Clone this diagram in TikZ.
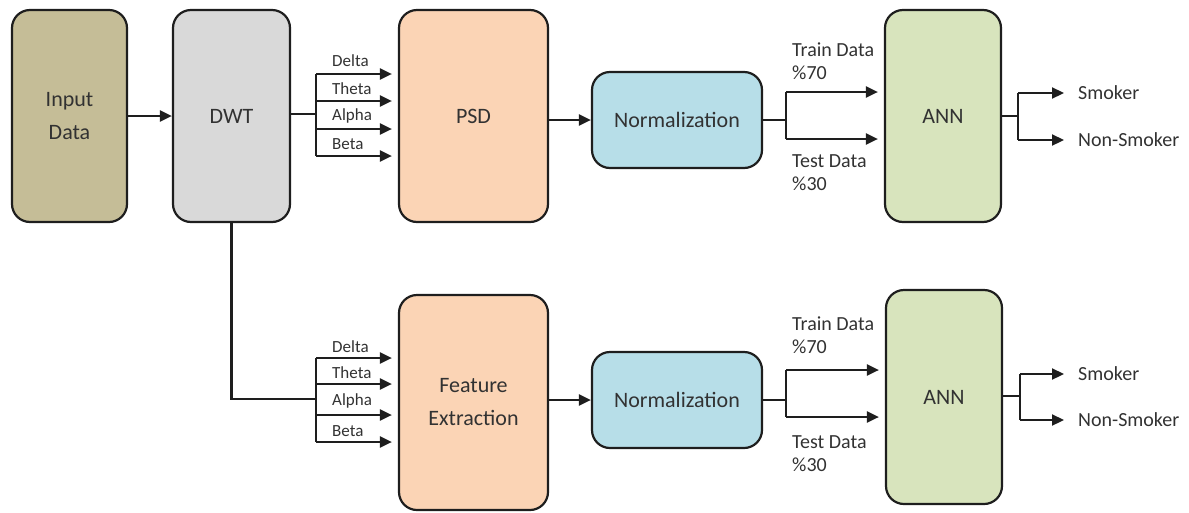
\documentclass[tikz,border=0pt]{standalone}
\usepackage{fontspec}
\setmainfont{Carlito}
\usepackage{xcolor}
\usetikzlibrary{arrows.meta}
\usetikzlibrary{positioning}

\definecolor{inputc}{RGB}{197,189,151}
\definecolor{dwtc}{RGB}{217,217,217}
\definecolor{psdc}{RGB}{251,212,181}
\definecolor{normc}{RGB}{183,222,232}
\definecolor{annc}{RGB}{216,228,189}
\definecolor{inkc}{RGB}{30,30,30}
\definecolor{txtc}{RGB}{50,50,50}

\tikzset{
  block/.style = {draw=inkc, line width=2.2pt, rounded corners=18pt, inner sep=0pt,
                  align=center, text=txtc, font=\fontsize{22}{33}\selectfont},
  flow/.style = {line width=2.2pt, draw=inkc},
  arr/.style = {flow, -{Triangle[length=12pt,width=11pt]}},
  band/.style = {anchor=west, inner sep=0pt, text=txtc, font=\fontsize{17}{20}\selectfont},
  tag/.style = {anchor=west, inner sep=0pt, align=left, text=txtc, font=\fontsize{20}{23}\selectfont}
}

\begin{document}
\begin{tikzpicture}[x=1pt, y=-1pt]
\useasboundingbox (0,0) rectangle (1189,512);

% -- boxes, first row
\node[block, fill=inputc, minimum width=115pt, minimum height=212pt] (inp) at (69.5,116) {Input\\Data};
\node[block, fill=dwtc, minimum width=117pt, minimum height=212pt] (dwt) at (231.5,116) {DWT};
\node[block, fill=psdc, minimum width=149pt, minimum height=212pt] (psd) at (473.5,116) {PSD};
\node[block, fill=normc, minimum width=170pt, minimum height=96pt] (norm1) at (677,120) {Normalization};
\node[block, fill=annc, minimum width=116pt, minimum height=212pt] (ann1) at (943,116) {ANN};

% -- boxes, second row
\node[block, fill=psdc, minimum width=149pt, minimum height=215pt] (fe) at (473.5,402.5) {Feature\\Extraction};
\node[block, fill=normc, minimum width=170pt, minimum height=96pt] (norm2) at (677,400) {Normalization};
\node[block, fill=annc, minimum width=116pt, minimum height=214pt] (ann2) at (944,397) {ANN};

\draw[arr] (inp) -- (dwt);

% -- bands into PSD
\coordinate (tj) at (316,114);
\draw[flow] (tj -| dwt.east) -- (tj);
\foreach \nm/\ya/\yl in {Delta/74/61, Theta/101/89, Alpha/129/116, Beta/156/144} {
  \coordinate (t\nm) at (316,\ya);
  \draw[arr, shorten >=6pt] (t\nm) -- (t\nm -| psd.west);
  \node[band] (lt\nm) at (332,\yl) {\nm};
}
\draw[flow] (tDelta) -- (tBeta);

% -- bands into feature extraction
\coordinate (fj) at (316,399);
\draw[flow] (dwt.south) |- (fj);
\foreach \nm/\ya/\yl in {Delta/358/347, Theta/384/373, Alpha/415/401, Beta/442/431} {
  \coordinate (f\nm) at (316,\ya);
  \draw[arr, shorten >=6pt] (f\nm) -- (f\nm -| fe.west);
  \node[band] (lf\nm) at (332,\yl) {\nm};
}
\draw[flow] (fDelta) -- (fBeta);

% -- normalization and split, first row
\draw[arr] (psd.east |- norm1.west) -- (norm1.west);
\coordinate (s1) at (786,120);
\coordinate (s1a) at (786,92);
\coordinate (s1b) at (786,139);
\draw[flow] (norm1.east) -- (s1);
\draw[flow] (s1a) -- (s1b);
\draw[arr, shorten >=6pt] (s1a) -- (s1a -| ann1.west);
\draw[arr, shorten >=6pt] (s1b) -- (s1b -| ann1.west);
\node[tag] (tr1) at (792,61) {Train Data\\\%70};
\node[tag] (te1) at (792,173) {Test Data\\\%30};

% -- normalization and split, second row
\draw[arr] (fe.east |- norm2.west) -- (norm2.west);
\coordinate (s2) at (786,400);
\coordinate (s2a) at (786,370);
\coordinate (s2b) at (786,417);
\draw[flow] (norm2.east) -- (s2);
\draw[flow] (s2a) -- (s2b);
\draw[arr, shorten >=6pt] (s2a) -- (s2a -| ann2.west);
\draw[arr, shorten >=6pt] (s2b) -- (s2b -| ann2.west);
\node[tag] (tr2) at (792,335) {Train Data\\\%70};
\node[tag] (te2) at (792,454) {Test Data\\\%30};

% -- outputs
\node[tag] (sm1) at (1078,93) {Smoker};
\node[tag] (ns1) at (1078,140) {Non-Smoker};
\coordinate (o1) at (1018,116);
\coordinate (o1a) at (1018,93);
\coordinate (o1b) at (1018,140);
\draw[flow] (ann1.east |- o1) -- (o1);
\draw[flow] (o1a) -- (o1b);
\draw[arr, shorten >=14pt] (o1a) -- (sm1.west);
\draw[arr, shorten >=14pt] (o1b) -- (ns1.west);

\node[tag] (sm2) at (1078,374) {Smoker};
\node[tag] (ns2) at (1078,420) {Non-Smoker};
\coordinate (o2) at (1020,396);
\coordinate (o2a) at (1020,374);
\coordinate (o2b) at (1020,420);
\draw[flow] (ann2.east |- o2) -- (o2);
\draw[flow] (o2a) -- (o2b);
\draw[arr, shorten >=14pt] (o2a) -- (sm2.west);
\draw[arr, shorten >=14pt] (o2b) -- (ns2.west);

\end{tikzpicture}
\end{document}
